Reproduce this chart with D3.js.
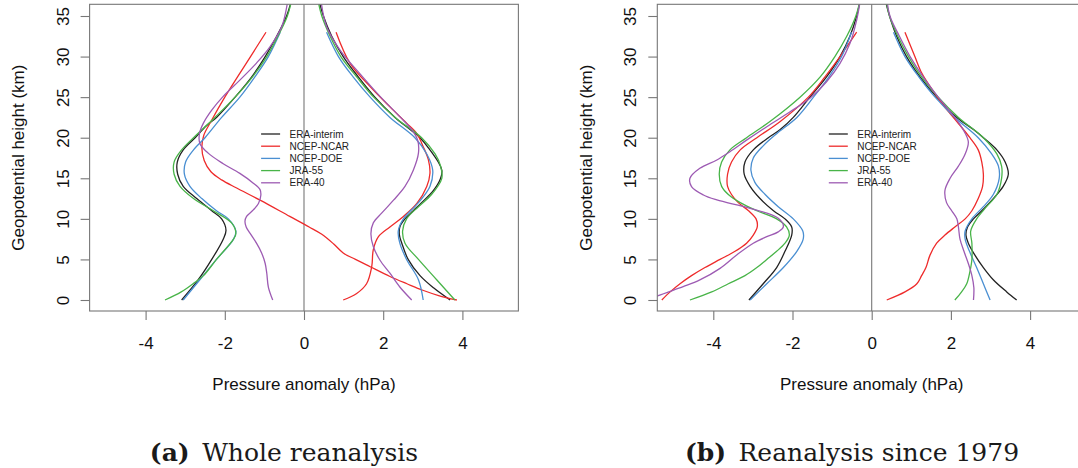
<!DOCTYPE html>
<html>
<head>
<meta charset="utf-8">
<title>Pressure anomaly profiles</title>
<style>
  body { margin: 0; background: #fff; }
  svg text { font-family: "Liberation Sans", Arial, sans-serif; }
</style>
</head>
<body>
<script src="https://d3js.org/d3.v7.min.js"></script>
<div id="chart"></div>
<script>
// ---- data: [pressure anomaly (hPa), geopotential height (km)] ----
const reanalyses = ['ERA-interim', 'NCEP-NCAR', 'NCEP-DOE', 'JRA-55', 'ERA-40'];
const colors = ['#222222', '#ee2b2b', '#4a8fd2', '#48b448', '#9d5bb3'];
const xTicks = [-4, -2, 0, 2, 4];
const yTicks = [0, 5, 10, 15, 20, 25, 30, 35];
const captions = [['(a)', 'Whole reanalysis'], ['(b)', 'Reanalysis since 1979']];

// (a) whole reanalysis
const wholeEraIntNeg = [[-3.09,0],[-2.67,2.5],[-2.33,5],[-2.04,7.5],[-1.97,8.6],[-2.08,10],[-2.33,11],[-2.71,12.5],[-3.05,14],[-3.19,15.5],[-3.2,17],[-3.05,18.5],[-2.75,20],[-2.46,21.5],[-2.21,22.5],[-1.74,25],[-1.32,27.5],[-0.98,30],[-0.69,32.5],[-0.44,35],[-0.3,37.2]];
const wholeEraIntPos = [[3.69,0],[3.27,1.5],[2.93,3],[2.63,5],[2.47,7],[2.41,8],[2.42,9],[2.55,10],[2.76,11],[2.97,12],[3.27,13.5],[3.45,15],[3.48,16],[3.39,17],[3.18,18.5],[2.93,20],[2.68,21],[2.3,22.5],[1.79,25],[1.37,27.5],[0.99,30],[0.7,32.5],[0.49,35],[0.36,37.2]];
const wholeNcarNeg = [[3.86,0],[3.4,0.55],[3.0,1.2],[2.6,2.0],[2.17,2.9],[1.67,4.1],[1.3,5.0],[0.99,5.8],[0.75,6.9],[0.45,8.1],[0.13,9.0],[-0.36,10.3],[-1.11,12.3],[-1.7,13.8],[-2.08,14.8],[-2.35,15.8],[-2.52,17.2],[-2.58,18.8],[-2.53,20.3],[-2.35,22],[-2.0,25],[-1.35,30],[-0.96,33]];
const wholeNcarPos = [[0.99,0],[1.33,0.8],[1.58,2.0],[1.71,4.1],[1.75,6.2],[1.88,7.8],[2.17,9.0],[2.51,10.3],[2.85,11.9],[3.1,14],[3.18,15.6],[3.14,17.3],[3.01,18.9],[2.85,20.5],[2.59,21.8],[2.17,23.8],[1.67,26.3],[1.16,29.2],[0.81,33]];
const wholeDoeNeg = [[-3.05,0],[-2.63,2.5],[-2.21,5],[-1.78,7.5],[-1.72,8.5],[-1.91,10],[-2.21,11],[-2.58,12.5],[-2.88,14],[-3.02,15.5],[-2.99,17],[-2.79,18.5],[-2.5,20],[-2.08,22.5],[-1.62,25],[-1.24,27.5],[-0.9,30],[-0.6,33]];
const wholeDoePos = [[3.01,0],[2.89,2.5],[2.59,5],[2.42,7],[2.38,8.5],[2.51,10],[2.89,12],[3.18,14],[3.25,16],[3.1,18],[2.8,20],[2.17,22.5],[1.67,25],[1.24,27.5],[0.87,30],[0.57,33]];
const wholeJraNeg = [[-3.51,0],[-3.1,1],[-2.75,2.2],[-2.54,3],[-2.21,5],[-1.78,7.5],[-1.72,8.2],[-1.83,9.5],[-2.29,11],[-2.79,12.5],[-3.13,14],[-3.28,15.5],[-3.28,17],[-3.09,18.5],[-2.79,20],[-2.25,22.5],[-1.74,25],[-1.3,27.5],[-0.94,30],[-0.66,32.5],[-0.42,35],[-0.3,37.2]];
const wholeJraPos = [[3.81,0],[3.35,2.5],[2.89,5],[2.55,7],[2.49,8.5],[2.59,10],[2.89,11.5],[3.22,13],[3.48,15],[3.45,16.5],[3.31,18],[2.97,20],[2.3,22.5],[1.76,25],[1.33,27.5],[0.93,30],[0.66,32.5],[0.45,35],[0.34,37.2]];
const wholeEra40Neg = [[-0.79,0],[-0.9,1.6],[-0.94,3.3],[-0.98,4.5],[-1.07,5.8],[-1.2,7],[-1.36,8.2],[-1.46,9],[-1.49,9.7],[-1.45,10.3],[-1.28,11.1],[-1.15,11.9],[-1.09,12.9],[-1.11,13.6],[-1.28,14.4],[-1.62,15.6],[-2.04,16.8],[-2.42,18.1],[-2.63,19.3],[-2.64,20.5],[-2.54,21.8],[-2.33,23.4],[-2.04,25.1],[-1.62,27.1],[-1.2,29.2],[-0.86,31.2],[-0.56,33.7],[-0.4,37.2]];
const wholeEra40Pos = [[2.72,0],[2.42,1.6],[2.17,3.3],[1.92,4.9],[1.75,6.6],[1.69,8.2],[1.75,9.5],[1.96,10.7],[2.26,12.3],[2.55,14],[2.76,16],[2.89,18.1],[2.87,19.7],[2.72,21],[2.42,22.6],[1.92,25.1],[1.41,27.9],[0.91,30.8],[0.57,33.7],[0.42,37.2]];

// (b) reanalysis since 1979
const sinceEraIntNeg = [[-3.1,0],[-2.74,2],[-2.4,4],[-2.19,6],[-2.02,8],[-2.02,9],[-2.19,10],[-2.48,11],[-2.82,12.5],[-3.07,14],[-3.22,15.5],[-3.2,17],[-2.99,18.5],[-2.61,20],[-2.31,21],[-1.98,22.5],[-1.56,25],[-1.14,27.5],[-0.8,30],[-0.55,32.5],[-0.38,35],[-0.28,37.2]];
const sinceEraIntPos = [[3.66,0],[3.41,1],[3.07,2.5],[2.82,4],[2.61,5.5],[2.44,7],[2.38,8],[2.42,9],[2.57,10],[2.78,11],[3.07,12.5],[3.32,14],[3.45,15.5],[3.37,17],[3.16,18.5],[2.82,20],[2.57,21],[2.15,22.5],[1.64,25],[1.22,27.5],[0.88,30],[0.63,32.5],[0.45,35],[0.33,37.2]];
const sinceNcarNeg = [[-5.3,0],[-5.09,1],[-4.84,2],[-4.55,3],[-4.21,4],[-3.83,5],[-3.45,6],[-3.16,7],[-2.99,8],[-2.89,9],[-2.92,10],[-3.11,11],[-3.37,12],[-3.54,13],[-3.64,14],[-3.64,15.5],[-3.54,17],[-3.32,18.5],[-2.9,20],[-2.31,22],[-1.6,25],[-1.18,27.5],[-0.8,30],[-0.38,33]];
const sinceNcarPos = [[0.38,0],[0.84,1],[1.14,2],[1.26,3],[1.37,4],[1.47,5.5],[1.64,7],[1.85,8],[2.1,9],[2.36,10],[2.53,11],[2.69,12.5],[2.8,14],[2.82,15.5],[2.78,17],[2.69,18.5],[2.48,20],[2.15,22],[1.81,24],[1.52,26],[1.26,28],[1.09,30],[0.84,33]];
const sinceDoeNeg = [[-3.07,0],[-2.65,2],[-2.23,4],[-1.89,6],[-1.73,7.5],[-1.74,8.5],[-1.98,10],[-2.36,11.5],[-2.69,13],[-2.95,14.5],[-3.05,16],[-2.99,17.5],[-2.74,19],[-2.4,20.5],[-1.89,22.5],[-1.47,25],[-1.08,27.5],[-0.76,30],[-0.51,33]];
const sinceDoePos = [[2.99,0],[2.82,2],[2.65,4],[2.47,6],[2.36,7.5],[2.36,8.5],[2.53,10],[2.82,11.5],[3.07,13],[3.22,15],[3.2,16.5],[3.03,18],[2.69,20],[2.1,22.5],[1.6,25],[1.19,27.5],[0.84,30],[0.55,33]];
const sinceJraNeg = [[-4.59,0],[-4.04,1],[-3.62,2],[-3.2,3],[-2.9,4],[-2.65,5],[-2.4,6],[-2.19,7],[-2.08,8],[-2.15,9],[-2.4,10],[-2.9,11],[-3.32,12],[-3.62,13],[-3.79,14],[-3.85,15.5],[-3.79,17],[-3.58,18.5],[-3.16,20],[-2.57,22],[-1.81,25],[-1.3,27.5],[-0.93,30],[-0.63,32.5],[-0.4,35],[-0.28,37.2]];
const sinceJraPos = [[2.1,0],[2.27,1],[2.4,2],[2.48,3.5],[2.53,5],[2.53,7],[2.5,8.5],[2.65,10],[2.9,11.5],[3.16,13],[3.28,15],[3.28,16.5],[3.16,18],[2.82,20],[2.19,22.5],[1.68,25],[1.26,27.5],[0.93,30],[0.66,32.5],[0.45,35],[0.35,37.2]];
const sinceEra40Neg = [[-5.6,0],[-5.39,0.53],[-4.76,1.64],[-4.34,2.47],[-3.83,3.9],[-3.41,5.55],[-2.99,7],[-2.65,7.8],[-2.36,8.4],[-2.23,9.04],[-2.36,10.07],[-3.07,11.3],[-3.91,12.33],[-4.25,12.94],[-4.55,13.97],[-4.59,15],[-4.34,16.23],[-3.91,17.26],[-3.58,18.28],[-3.16,19.7],[-2.65,21.36],[-2.06,23.2],[-1.56,24.86],[-1.14,26.9],[-0.8,29.17],[-0.55,31.6],[-0.38,34.5],[-0.28,37.2]];
const sinceEra40Pos = [[2.57,0],[2.58,1.5],[2.53,3],[2.44,4.5],[2.33,6],[2.23,7.5],[2.19,9],[2.15,10],[2.02,11],[1.89,12],[1.85,13.5],[1.98,15],[2.19,16.5],[2.36,18],[2.44,19.5],[2.31,21],[2.1,22.5],[1.68,25],[1.3,27.5],[0.97,30],[0.7,32.5],[0.46,35],[0.38,37.2]];

const wholeCurves = [
  [wholeEraIntNeg, wholeEraIntPos], [wholeNcarNeg, wholeNcarPos], [wholeDoeNeg, wholeDoePos],
  [wholeJraNeg, wholeJraPos], [wholeEra40Neg, wholeEra40Pos]
];
const sinceCurves = [
  [sinceEraIntNeg, sinceEraIntPos], [sinceNcarNeg, sinceNcarPos], [sinceDoeNeg, sinceDoePos],
  [sinceJraNeg, sinceJraPos], [sinceEra40Neg, sinceEra40Pos]
];

// ---- layout ----
const W = 1078, H = 468;
const xLim = 5.414, yLim = [-1.356, 36.44];
const panels = [
  {id: 'a', zero: 304, curves: wholeCurves, caption: captions[0], capX: 284},
  {id: 'b', zero: 871.7, curves: sinceCurves, caption: captions[1], capX: 852}
];
const pxPerUnit = 39.6;

const svg = d3.select('#chart').append('svg')
  .attr('width', W).attr('height', H)
  .style('background', '#fff');

const y = d3.scaleLinear().domain([0, 35]).range([300, 16]);
const boxTop = y(yLim[1]), boxBottom = y(yLim[0]);

panels.forEach(function(p) {
  const x = d3.scaleLinear().domain([0, 1]).range([p.zero, p.zero + pxPerUnit]);
  const boxLeft = x(-xLim), boxRight = x(xLim);
  const g = svg.append('g');

  g.append('clipPath').attr('id', 'clip-' + p.id)
    .append('rect')
    .attr('x', boxLeft).attr('y', boxTop)
    .attr('width', boxRight - boxLeft).attr('height', boxBottom - boxTop);

  // zero line
  g.append('line')
    .attr('x1', x(0)).attr('x2', x(0))
    .attr('y1', boxTop).attr('y2', boxBottom)
    .attr('stroke', '#777').attr('stroke-width', 1.1);

  // profiles
  const line = d3.line()
    .x(d => x(d[0])).y(d => y(d[1]))
    .curve(d3.curveCatmullRom.alpha(0.5));
  const plot = g.append('g').attr('clip-path', 'url(#clip-' + p.id + ')');
  p.curves.forEach(function(pair, i) {
    pair.forEach(function(c) {
      plot.append('path').datum(c)
        .attr('d', line)
        .attr('fill', 'none')
        .attr('stroke', colors[i])
        .attr('stroke-width', 1.3);
    });
  });

  // box
  g.append('rect')
    .attr('x', boxLeft).attr('y', boxTop)
    .attr('width', boxRight - boxLeft).attr('height', boxBottom - boxTop)
    .attr('fill', 'none').attr('stroke', '#777').attr('stroke-width', 1.1);

  // x axis
  const xAxis = g.append('g')
    .attr('transform', 'translate(0,' + boxBottom + ')')
    .call(d3.axisBottom(x).tickValues(xTicks).tickSize(9).tickPadding(17)
      .tickFormat(d => d < 0 ? '-' + Math.abs(d) : d));
  xAxis.select('.domain').remove();
  xAxis.selectAll('line').attr('stroke', '#777').attr('stroke-width', 1.1);
  xAxis.selectAll('text').attr('font-size', 17).attr('fill', '#111')
    .style('font-family', '"Liberation Sans", Arial, sans-serif');

  // y axis
  const yAxis = g.append('g')
    .attr('transform', 'translate(' + boxLeft + ',0)')
    .call(d3.axisLeft(y).tickValues(yTicks).tickSize(9));
  yAxis.select('.domain').remove();
  yAxis.selectAll('line').attr('stroke', '#777').attr('stroke-width', 1.1);
  yAxis.selectAll('text')
    .attr('x', null).attr('dy', '0.35em')
    .attr('text-anchor', 'middle')
    .attr('transform', 'translate(-27,0) rotate(-90)')
    .attr('font-size', 17).attr('fill', '#111')
    .style('font-family', '"Liberation Sans", Arial, sans-serif');

  // axis titles
  g.append('text')
    .attr('x', x(0)).attr('y', 390)
    .attr('text-anchor', 'middle').attr('font-size', 17).attr('fill', '#111')
    .text('Pressure anomaly (hPa)');
  g.append('text')
    .attr('transform', 'translate(' + (boxLeft - 71.5) + ',' + ((boxTop + boxBottom) / 2) + ') rotate(-90)')
    .attr('dy', '0.35em')
    .attr('text-anchor', 'middle').attr('font-size', 17).attr('fill', '#111')
    .text('Geopotential height (km)');

  // legend
  const lg = g.append('g').attr('transform', 'translate(' + (boxLeft + 171.5) + ',134)');
  reanalyses.forEach(function(name, i) {
    lg.append('line')
      .attr('x1', 0).attr('x2', 19)
      .attr('y1', i * 12.2).attr('y2', i * 12.2)
      .attr('stroke', colors[i]).attr('stroke-width', 1.3);
    lg.append('text')
      .attr('x', 28.5).attr('y', i * 12.2).attr('dy', '0.35em')
      .attr('font-size', 10).attr('fill', '#222')
      .text(name);
  });

  // caption
  const cap = svg.append('text')
    .attr('x', p.capX).attr('y', 461)
    .attr('text-anchor', 'middle')
    .style('font-family', '"DejaVu Serif", "Liberation Serif", serif')
    .attr('font-size', 25).attr('fill', '#1a1a1a');
  cap.append('tspan').attr('font-weight', 'bold').text(p.caption[0]);
  cap.append('tspan').text('\u2002' + p.caption[1]);
});
</script>
</body>
</html>
